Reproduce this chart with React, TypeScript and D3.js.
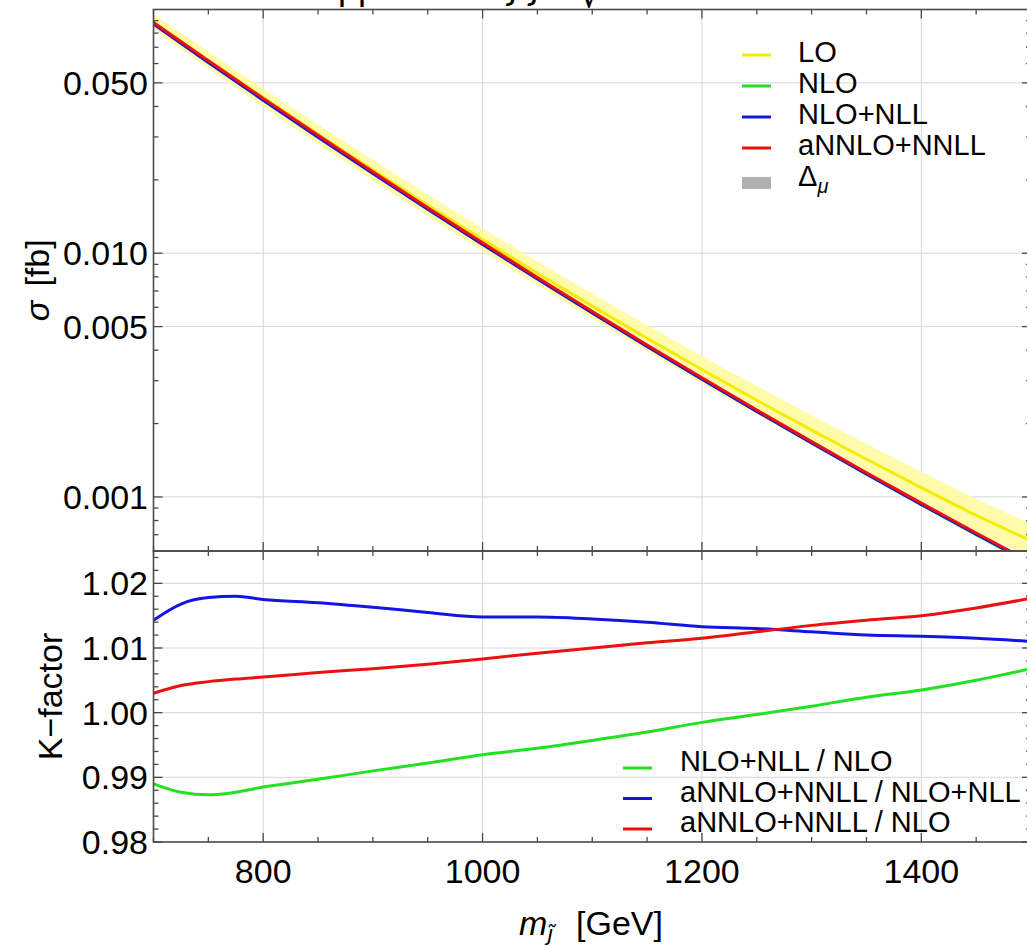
import React from 'react';
import * as d3 from 'd3';

// Cross sections in fb on a 50 GeV mass grid
const MASS = [700, 750, 800, 850, 900, 950, 1000, 1050, 1100, 1150, 1200, 1250, 1300, 1350, 1400, 1450, 1500];
const SIGMA_LO = [0.08884, 0.06195, 0.04351, 0.03079, 0.02193, 0.01573, 0.01137, 0.008277, 0.006068, 0.004478, 0.003331, 0.002493, 0.00188, 0.001428, 0.001092, 0.000841, 0.0006609];
const SIGMA_LO_UP = [0.09586, 0.0672, 0.04744, 0.03375, 0.02417, 0.01743, 0.01267, 0.009269, 0.006832, 0.005069, 0.00379, 0.002852, 0.002163, 0.001651, 0.00127, 0.000983, 0.0007765];
const SIGMA_LO_DOWN = [0.08234, 0.05711, 0.0399, 0.02809, 0.01989, 0.0142, 0.01021, 0.007391, 0.00539, 0.003956, 0.002927, 0.002179, 0.001634, 0.001235, 0.0009392, 0.0007195, 0.0005625];
const SIGMA_NLO = [0.08817, 0.06134, 0.04294, 0.03026, 0.02143, 0.01527, 0.01094, 0.00788, 0.005709, 0.00416, 0.003048, 0.002246, 0.001664, 0.001239, 0.0009293, 0.0007001, 0.0005303];
const SIGMA_NLO_NLL = [0.08718, 0.06055, 0.04244, 0.02994, 0.02123, 0.01515, 0.01087, 0.007837, 0.005684, 0.004147, 0.003043, 0.002245, 0.001665, 0.001242, 0.0009322, 0.0007033, 0.0005338];
const SIGMA_ANNLO_NNLL = [0.08843, 0.06163, 0.04318, 0.03045, 0.02158, 0.01538, 0.01103, 0.007953, 0.005766, 0.004205, 0.003083, 0.002274, 0.001686, 0.001257, 0.0009432, 0.0007114, 0.0005397];

// K-factors
const K_MASS = [700, 725, 750, 775, 800, 850, 900, 950, 1000, 1050, 1100, 1150, 1200, 1250, 1300, 1350, 1400, 1450, 1500];
const K_NLL_OVER_NLO = [0.989, 0.9877, 0.9873, 0.9877, 0.9885, 0.9897, 0.991, 0.9922, 0.9935, 0.9945, 0.9957, 0.997, 0.9985, 0.9997, 1.001, 1.0024, 1.0035, 1.005, 1.0068];
const K_NNLL_OVER_NLL = [1.0143, 1.0168, 1.0178, 1.018, 1.0175, 1.017, 1.0163, 1.0155, 1.0148, 1.0148, 1.0145, 1.014, 1.0133, 1.013, 1.0125, 1.012, 1.0118, 1.0115, 1.011];
const K_NNLL_OVER_NLO = [1.003, 1.0042, 1.0048, 1.0052, 1.0055, 1.0062, 1.0068, 1.0075, 1.0083, 1.0092, 1.01, 1.0108, 1.0115, 1.0125, 1.0135, 1.0143, 1.015, 1.0162, 1.0177];

const X_TICKS = [800, 1000, 1200, 1400];
const SIGMA_TICKS = [0.05, 0.01, 0.005, 0.001];
const SIGMA_TICK_LABELS = ['0.050', '0.010', '0.005', '0.001'];
const K_TICKS = [0.98, 0.99, 1.0, 1.01, 1.02];
const K_TICK_LABELS = ['0.98', '0.99', '1.00', '1.01', '1.02'];

const TOP_LEGEND = ['LO', 'NLO', 'NLO+NLL', 'aNNLO+NNLL'];
const BOTTOM_LEGEND = ['NLO+NLL / NLO', 'aNNLO+NNLL / NLO+NLL', 'aNNLO+NNLL / NLO'];

const COLORS = {
  lo: '#f2ec00',
  nlo: '#22e022',
  nll: '#1414e6',
  nnll: '#ec1010',
  band: '#fffa9c',
  grid: '#d6d6d6',
  frame: '#4a4a4a',
};

const FONT = '"Liberation Sans", Arial, Helvetica, sans-serif';

const W = 1027;
const H = 946;
const LEFT = 153.5;
const RIGHT = 1031;
const TOP0 = 9.5;
const MID = 551;
const BOT = 842;

export default function App() {
  const x = d3.scaleLinear().domain([700, 1500]).range([LEFT, RIGHT]);
  const ySig = d3.scaleLog().domain([0.0006, 0.1]).range([MID, TOP0]);
  const yK = d3.scaleLinear().domain([0.98, 1.025]).range([BOT, MID]);

  const sigLine = (vals: number[]) =>
    d3.line<number>().x((_, i) => x(MASS[i])).y((d) => ySig(d)).curve(d3.curveMonotoneX)(vals) || '';
  const kLine = (vals: number[]) =>
    d3.line<number>().x((_, i) => x(K_MASS[i])).y((d) => yK(d)).curve(d3.curveMonotoneX)(vals) || '';
  const band =
    d3
      .area<number>()
      .x((_, i) => x(MASS[i]))
      .y0((_, i) => ySig(SIGMA_LO_DOWN[i]))
      .y1((_, i) => ySig(SIGMA_LO_UP[i]))
      .curve(d3.curveMonotoneX)(MASS) || '';

  // tick positions
  const xMinor = d3.range(700, 1501, 50).filter((m) => !X_TICKS.includes(m));
  const sigMinor: number[] = [];
  [0.0001, 0.001, 0.01].forEach((dec) => {
    for (let k = 1; k <= 9; k++) {
      const v = +(k * dec).toPrecision(3);
      if (v >= 0.0006 && v <= 0.1 && !SIGMA_TICKS.includes(v)) sigMinor.push(v);
    }
  });
  const kMinor = d3.range(0, 23).map((i) => +(0.98 + i * 0.002).toFixed(3)).filter(
    (v) => v <= 1.025 && !K_TICKS.some((t) => Math.abs(t - v) < 1e-6)
  );

  const MAJ = 9;
  const MIN = 5;
  const tickStroke = { stroke: COLORS.frame, strokeWidth: 1.3 };

  return (
    <svg
      width={W}
      height={H}
      viewBox={`0 0 ${W} ${H}`}
      style={{ position: 'absolute', left: 0, top: 0, background: '#fff' }}
      fontFamily={FONT}
    >
      <defs>
        <clipPath id="clipTop">
          <rect x={LEFT} y={TOP0} width={RIGHT - LEFT} height={MID - TOP0} />
        </clipPath>
        <clipPath id="clipBot">
          <rect x={LEFT} y={MID} width={RIGHT - LEFT} height={BOT - MID} />
        </clipPath>
      </defs>

      {/* title, running above the frame */}
      <text y={-1} fontSize={36} fill="#000">
        <tspan x={338}>pp</tspan>
        <tspan x={392}>→</tspan>
        <tspan x={510} fontFamily="DejaVu Sans" fontStyle="italic">ȷ̃ ȷ̃*</tspan>
      </text>
      <text x={579} y={7} fontSize={36} fontFamily="DejaVu Sans" fill="#000">
        √<tspan dy={-8}>s = 13 TeV</tspan>
      </text>

      {/* grid */}
      <g stroke={COLORS.grid} strokeWidth={1}>
        {X_TICKS.map((m) => (
          <line key={'gx' + m} x1={x(m)} x2={x(m)} y1={TOP0} y2={BOT} />
        ))}
        {SIGMA_TICKS.map((v) => (
          <line key={'gs' + v} x1={LEFT} x2={RIGHT} y1={ySig(v)} y2={ySig(v)} />
        ))}
        {K_TICKS.slice(1).map((v) => (
          <line key={'gk' + v} x1={LEFT} x2={RIGHT} y1={yK(v)} y2={yK(v)} />
        ))}
      </g>

      {/* cross sections */}
      <g clipPath="url(#clipTop)" fill="none" strokeLinejoin="round">
        <path d={band} fill={COLORS.band} fillOpacity={0.85} stroke="none" />
        <path d={sigLine(SIGMA_LO)} stroke={COLORS.lo} strokeWidth={3} />
        <path d={sigLine(SIGMA_NLO)} stroke={COLORS.nlo} strokeWidth={3} />
        <path d={sigLine(SIGMA_NLO_NLL)} stroke={COLORS.nll} strokeWidth={3} />
        <path d={sigLine(SIGMA_ANNLO_NNLL)} stroke={COLORS.nnll} strokeWidth={3} />
      </g>

      {/* K-factors */}
      <g clipPath="url(#clipBot)" fill="none" strokeWidth={3} strokeLinejoin="round">
        <path d={kLine(K_NLL_OVER_NLO)} stroke={COLORS.nlo} />
        <path d={kLine(K_NNLL_OVER_NLL)} stroke={COLORS.nll} />
        <path d={kLine(K_NNLL_OVER_NLO)} stroke={COLORS.nnll} />
      </g>

      {/* frames */}
      <g fill="none" stroke={COLORS.frame} strokeWidth={1.6}>
        <rect x={LEFT} y={TOP0} width={RIGHT - LEFT} height={MID - TOP0} />
        <rect x={LEFT} y={MID} width={RIGHT - LEFT} height={BOT - MID} />
      </g>

      {/* ticks on all frame edges */}
      <g {...tickStroke}>
        {X_TICKS.map((m) => (
          <g key={'xt' + m}>
            <line x1={x(m)} x2={x(m)} y1={TOP0} y2={TOP0 + MAJ} />
            <line x1={x(m)} x2={x(m)} y1={MID} y2={MID - MAJ} />
            <line x1={x(m)} x2={x(m)} y1={MID} y2={MID + MAJ} />
            <line x1={x(m)} x2={x(m)} y1={BOT} y2={BOT - MAJ} />
          </g>
        ))}
        {xMinor.map((m) => (
          <g key={'xm' + m}>
            <line x1={x(m)} x2={x(m)} y1={TOP0} y2={TOP0 + MIN} />
            <line x1={x(m)} x2={x(m)} y1={MID} y2={MID - MIN} />
            <line x1={x(m)} x2={x(m)} y1={MID} y2={MID + MIN} />
            <line x1={x(m)} x2={x(m)} y1={BOT} y2={BOT - MIN} />
          </g>
        ))}
        {SIGMA_TICKS.map((v) => (
          <g key={'st' + v}>
            <line x1={LEFT} x2={LEFT + MAJ} y1={ySig(v)} y2={ySig(v)} />
            <line x1={RIGHT} x2={RIGHT - MAJ} y1={ySig(v)} y2={ySig(v)} />
          </g>
        ))}
        {sigMinor.map((v) => (
          <g key={'sm' + v}>
            <line x1={LEFT} x2={LEFT + MIN} y1={ySig(v)} y2={ySig(v)} />
            <line x1={RIGHT} x2={RIGHT - MIN} y1={ySig(v)} y2={ySig(v)} />
          </g>
        ))}
        {K_TICKS.map((v) => (
          <g key={'kt' + v}>
            <line x1={LEFT} x2={LEFT + MAJ} y1={yK(v)} y2={yK(v)} />
            <line x1={RIGHT} x2={RIGHT - MAJ} y1={yK(v)} y2={yK(v)} />
          </g>
        ))}
        {kMinor.map((v) => (
          <g key={'km' + v}>
            <line x1={LEFT} x2={LEFT + MIN} y1={yK(v)} y2={yK(v)} />
            <line x1={RIGHT} x2={RIGHT - MIN} y1={yK(v)} y2={yK(v)} />
          </g>
        ))}
      </g>

      {/* tick labels */}
      <g fontSize={34} fill="#000">
        {SIGMA_TICKS.map((v, i) => (
          <text key={'sl' + v} x={148} y={ySig(v)} textAnchor="end" dominantBaseline="central">
            {SIGMA_TICK_LABELS[i]}
          </text>
        ))}
        {K_TICKS.map((v, i) => (
          <text key={'kl' + v} x={148} y={yK(v)} textAnchor="end" dominantBaseline="central">
            {K_TICK_LABELS[i]}
          </text>
        ))}
        {X_TICKS.map((m) => (
          <text key={'xl' + m} x={x(m)} y={883} textAnchor="middle">
            {m}
          </text>
        ))}
      </g>

      {/* axis titles */}
      <g fontSize={34} fill="#000">
        <text transform={`translate(37,${(TOP0 + MID) / 2}) rotate(-90)`} textAnchor="middle" dominantBaseline="central">
          <tspan fontStyle="italic">σ</tspan>
          <tspan dx={14}>[fb]</tspan>
        </text>
        <text transform={`translate(50,${(MID + BOT) / 2}) rotate(-90)`} textAnchor="middle" dominantBaseline="central">
          K−factor
        </text>
        <text x={519} y={935}>
          <tspan fontStyle="italic">m</tspan>
          <tspan dy={6} fontSize={22} fontFamily="DejaVu Sans" fontStyle="italic">ȷ̃</tspan>
          <tspan x={576} dy={-6}>[GeV]</tspan>
        </text>
      </g>

      {/* legend, cross sections */}
      <g fontSize={29} fill="#000">
        {TOP_LEGEND.map((name, i) => {
          const yb = 62 + i * 31;
          const c = [COLORS.lo, COLORS.nlo, COLORS.nll, COLORS.nnll][i];
          return (
            <g key={name}>
              <line x1={742} x2={771} y1={yb - 7} y2={yb - 7} stroke={c} strokeWidth={3} />
              <text x={798} y={yb}>{name}</text>
            </g>
          );
        })}
        <rect x={742} y={177} width={29} height={12} fill="#b0b0b0" />
        <text x={798} y={186}>
          Δ
          <tspan fontSize={20} fontStyle="italic" dy={7}>μ</tspan>
        </text>
      </g>

      {/* legend, K-factors */}
      <g fontSize={29} fill="#000">
        {BOTTOM_LEGEND.map((name, i) => {
          const yb = 771 + i * 30.5;
          const c = [COLORS.nlo, COLORS.nll, COLORS.nnll][i];
          return (
            <g key={name}>
              <line x1={623} x2={652} y1={yb - 3} y2={yb - 3} stroke={c} strokeWidth={3} />
              <text x={680} y={yb}>{name}</text>
            </g>
          );
        })}
      </g>
    </svg>
  );
}
